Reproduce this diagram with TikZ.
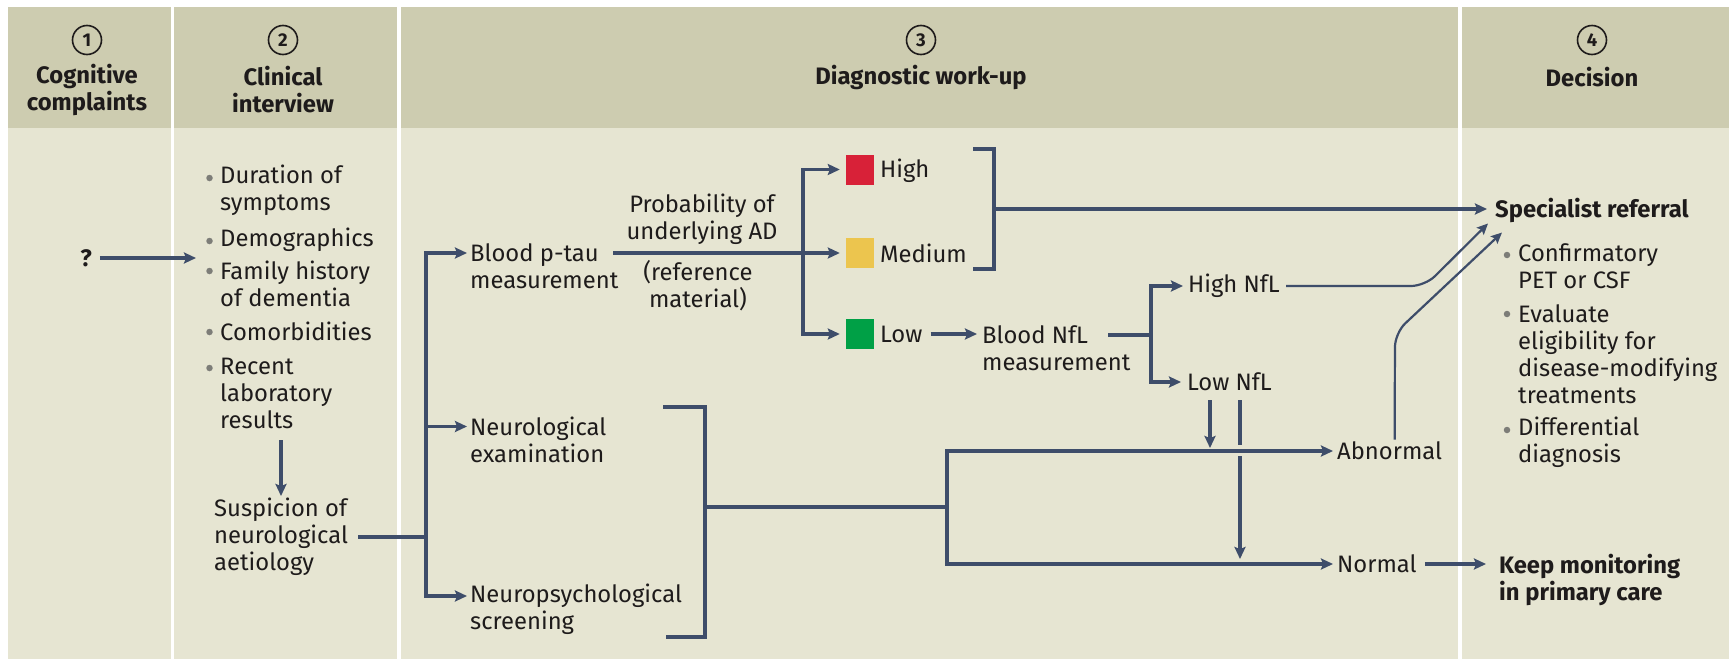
\documentclass[tikz,border=0pt]{standalone}
\usepackage{fontspec}
\setmainfont{Fira Sans}
\usetikzlibrary{arrows.meta}

\definecolor{hdrfill}{RGB}{205,204,176}
\definecolor{bodyfill}{RGB}{230,229,210}
\definecolor{ink}{RGB}{62,77,106}
\definecolor{riskred}{RGB}{216,33,56}
\definecolor{riskyellow}{RGB}{236,197,78}
\definecolor{riskgreen}{RGB}{0,160,70}
\definecolor{dotgray}{RGB}{125,125,120}
\definecolor{txtcol}{RGB}{30,27,27}

\newcommand{\bodyfont}{\fontsize{23.8}{27}\selectfont}

\begin{document}
\begin{tikzpicture}[x=1pt,y=-1pt,
  txt/.style={inner sep=0pt, align=left, font=\bodyfont, text=txtcol},
  lbl/.style={txt, anchor=west},
  boldlbl/.style={lbl, font=\bodyfont\bfseries},
  head/.style={inner sep=0pt, align=center, font=\bodyfont\bfseries, text=txtcol},
  num/.style={circle, draw=txtcol, line width=1.6pt, minimum size=29pt, inner sep=0pt,
              font=\fontsize{18.5}{18.5}\selectfont\bfseries, text=txtcol},
  conn/.style={draw=ink, line width=3.3pt},
  arr/.style={conn, -{Stealth[length=12pt,width=11pt,inset=2pt]}},
  thinarr/.style={draw=ink, line width=2.2pt, rounded corners=14pt,
                  -{Stealth[length=11pt,width=10pt,inset=2pt]}},
  dot/.style={circle, fill=dotgray, inner sep=0pt, minimum size=6.5pt},
  swatch/.style={minimum width=28pt, minimum height=30pt, inner sep=0pt},
]
% page and column panels
\fill[white] (0,0) rectangle (1733,659);
\useasboundingbox (0,0) rectangle (1733,659);
\foreach \l/\r in {8/171,174/397,401/1458,1462/1729}{
  \fill[hdrfill] (\l,7) rectangle (\r,128);
  \fill[bodyfill] (\l,128) rectangle (\r,659);
}

% column headings
\node[num] (c1) at (87,40) {1};
\node[head] (h1) at (87,90) {Cognitive\\complaints};
\node[num] (c2) at (283,40) {2};
\node[head] (h2) at (283,90) {Clinical\\interview};
\node[num] (c3) at (921,40) {3};
\node[head] (h3) at (921,77) {Diagnostic work-up};
\node[num] (c4) at (1592,40) {4};
\node[head] (h4) at (1592,77) {Decision};

% step 1
\node[boldlbl, anchor=center] (q) at (86,258) {?};
\coordinate (listin) at (196,258);
\draw[arr] ([xshift=8pt]q.east) -- (listin);

% step 2: interview checklist
\node[lbl] (d1) at (220,190) {Duration of\\symptoms};
\node[lbl] (d2) at (220,240) {Demographics};
\node[lbl] (d3) at (220,283.5) {Family history\\of dementia};
\node[lbl] (d4) at (220,331) {Comorbidities};
\node[lbl] (d5) at (220,393) {Recent\\laboratory\\results};
\node[dot] (b1) at (209.5,178) {};
\node[dot] (b2) at (209.5,241) {};
\node[dot] (b3) at (209.5,271) {};
\node[dot] (b4) at (209.5,332) {};
\node[dot] (b5) at (209.5,368) {};

\node[lbl] (susp) at (214,537) {Suspicion of\\neurological\\aetiology};
\coordinate (downtop) at (281,440);
\coordinate (downend) at (281,496);
\draw[arr] (downtop) -- (downend);

% step 3: work-up
\coordinate (trunk) at (426,537);
\draw[conn] ([xshift=10pt]susp.east |- trunk) -- (trunk);

\node[lbl] (ptau) at (470,266.5) {Blood p-tau\\measurement};
\node[lbl] (neuro) at (470,440) {Neurological\\examination};
\node[lbl] (npsych) at (470,609.5) {Neuropsychological\\screening};
\draw[arr] (trunk) |- ([xshift=-3pt,yshift=13.5pt]ptau.west);
\draw[arr] (trunk) |- ([xshift=-3pt,yshift=13.5pt]neuro.west);
\draw[arr] (trunk) |- ([xshift=-3pt,yshift=13.5pt]npsych.west);

\node[txt, align=center] (prob) at (702,219) {Probability of\\underlying AD};
\node[txt, align=center] (refm) at (698,285.5) {(reference\\material)};

\node[swatch, fill=riskred] (swR) at (860,169.5) {};
\node[swatch, fill=riskyellow] (swY) at (860,253) {};
\node[swatch, fill=riskgreen] (swG) at (860,334) {};
\node[lbl] (high) at (880,171) {High};
\node[lbl] (med) at (880,253) {Medium};
\node[lbl] (low) at (880,334) {Low};

\coordinate (ptauout) at (613,253);
\coordinate (br) at (803,253);
\draw[arr] (ptauout) -- ([xshift=-6pt]swY.west |- ptauout);
\draw[arr] (br) |- ([xshift=-6pt]swR.west);
\draw[arr] (br) |- ([xshift=-6pt]swG.west);

% high / medium bracket to referral
\node[boldlbl] (spec) at (1495,210) {Specialist referral};
\coordinate (bk1) at (994,209);
\draw[conn] (973,149) -- (994,149) -- (994,269) -- (973,269);
\draw[arr] (bk1) -- ([xshift=-8pt]spec.west |- bk1);

% low -> NfL
\node[lbl] (nfl) at (982,348.5) {Blood NfL\\measurement};
\draw[arr] ([xshift=8pt]low.east) -- ([xshift=-5pt]nfl.west |- low);
\coordinate (nflout) at (1108,335);
\coordinate (nb) at (1151,335);
\draw[conn] (nflout) -- (nb);
\node[lbl] (hnfl) at (1188,286) {High NfL};
\node[lbl] (lnfl) at (1187,382) {Low NfL};
\draw[arr] (nb) |- ([xshift=-5pt]hnfl.west);
\draw[arr] (nb) |- ([xshift=-6pt]lnfl.west);
\draw[thinarr] ([xshift=6pt]hnfl.east) -- (1425,286) -- ([xshift=-7pt,yshift=-1pt]spec.south west);

% neurological / neuropsychological bracket
\node[lbl] (abn) at (1337,451) {Abnormal};
\node[lbl] (norm) at (1337,564) {Normal};
\coordinate (bk2) at (705,507);
\coordinate (split) at (947,507);
\draw[conn] (663,407) -- (705,407) -- (705,637) -- (666,637);
\draw[conn] (bk2) -- (split);
\draw[arr] (split) |- ([xshift=-4pt]abn.west);
\draw[arr] (split) |- ([xshift=-4pt]norm.west);

% low NfL drops
\coordinate (la1) at (1210,400);
\coordinate (la2) at (1210,448);
\coordinate (lb1) at (1240,400);
\coordinate (lb2) at (1240,445);
\coordinate (lb3) at (1240,456);
\coordinate (lb4) at (1240,559);
\draw[arr] (la1) -- (la2);
\draw[conn] (lb1) -- (lb2);
\draw[arr] (lb3) -- (lb4);

% abnormal -> referral
\draw[thinarr] ([xshift=5pt,yshift=2pt]abn.north) -- (1395,333) -- ([xshift=7pt,yshift=-10pt]spec.south west);

% step 4: decision
\node[boldlbl] (keep) at (1499,580) {Keep monitoring\\in primary care};
\draw[arr] ([xshift=8pt]norm.east) -- ([xshift=-13pt]keep.west |- norm);

\node[lbl] (o1) at (1518,266.5) {Confirmatory\\PET or CSF};
\node[lbl] (o2) at (1518,354.5) {Evaluate\\eligibility for\\disease-modifying\\treatments};
\node[lbl] (o3) at (1518,442.5) {Differential\\diagnosis};
\node[dot] (e1) at (1507,255) {};
\node[dot] (e2) at (1507,314) {};
\node[dot] (e3) at (1507,430) {};
\end{tikzpicture}
\end{document}
